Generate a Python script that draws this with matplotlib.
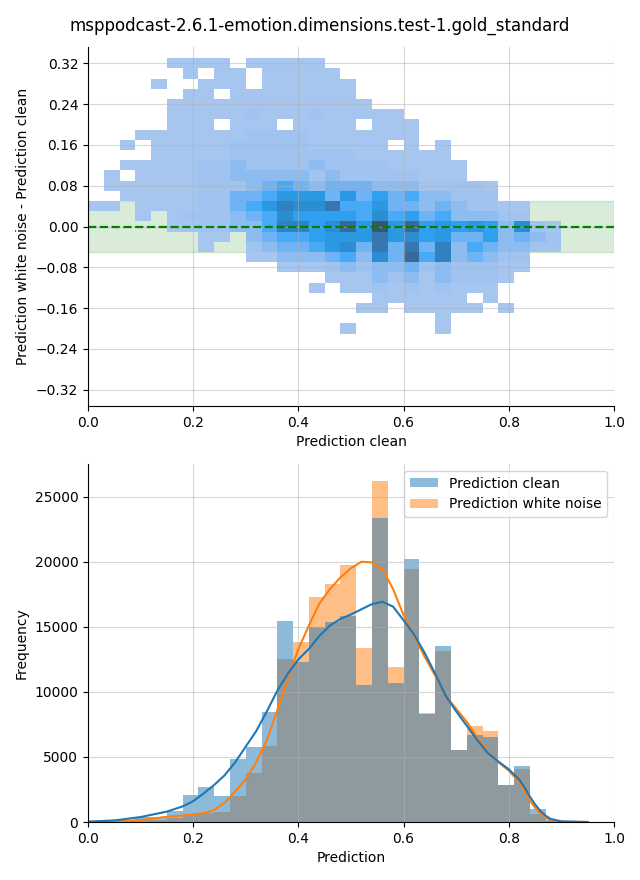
import numpy as np
import matplotlib
matplotlib.use("Agg")
import matplotlib.pyplot as plt
import seaborn as sns
from matplotlib.ticker import MultipleLocator

title = "msppodcast-2.6.1-emotion.dimensions.test-1.gold_standard"

# shared bins: 30 bins over the clean prediction range, 27 bins over the difference
x_edges = np.linspace(0.0, 0.9, 31)
y_edges = np.linspace(-0.21, 0.33, 28)

# 2d histogram, top row (0.31..0.33) first, one char per x bin
diff_rows = [
    ".....aaaa.aaaaa...............",
    "......a.aa.aaaaa..............",
    "....a..aaa.aaaaaa.............",
    "......aa.aaaaaaaa.............",
    ".....aaaaaaaaaaaaa............",
    ".....aaaaabaaabaaaaa..........",
    ".....aaa.aaa.aaaa.aaa.........",
    "...aaaaaaabbbbaaaaaaa.........",
    "..a.aaaaabbbbbaaaaa.a.a.......",
    "....aaaaabbbbbbbbaaaaaa.......",
    "..aaaaabbcbbbbcbbbbaaaaa......",
    ".a.aaaabbcccccbcbbbbbaaa......",
    ".aaaaaabbbcdedcdddcccbbbba....",
    "..aaaaabbddegggdgdfdeccbbb....",
    "aa.aaaabbdegihhjeegddcdcbbaa..",
    "...a.abbbcdehffffehefdecccbb..",
    ".....aabbcceiifhkglgkfgfgfchba",
    ".......aa.cdeefgggjghfgddfcdcb",
    ".......a..bcddeghdjdjdicedccbb",
    "..........aacccdechdkeicdcbb..",
    "............aaabcbccdbcbbbaa..",
    "...............aaacbcacbbba...",
    "..............a.aabababaaa....",
    "..................aaaaaa.a....",
    ".................aa.aaaaa.a...",
    "......................a.......",
    "................a.....a.......",
]
# estimated counts for each shade
level_counts = {'a': 25, 'b': 50, 'c': 115, 'd': 200, 'e': 290, 'f': 370,
                'g': 440, 'h': 530, 'i': 620, 'j': 700, 'k': 820, 'l': 1000}

# bar heights per bin (bottom panel)
hist_clean = [20, 60, 150, 380, 420, 850, 2080, 2660, 2000, 4820,
              5770, 8450, 15440, 12300, 14980, 15360, 15820, 10500, 23380, 10670,
              20200, 8300, 13520, 5500, 6680, 6530, 2840, 4300, 1000, 150]
hist_noise = [5, 20, 40, 120, 150, 330, 620, 670, 770, 2030,
              3770, 5840, 12500, 13810, 17280, 18280, 19750, 13370, 26200, 11900,
              19440, 8380, 13140, 5560, 7380, 6980, 2850, 4070, 640, 100]

# kde curves (scaled to counts)
kde_x = [0.00, 0.05, 0.10, 0.15, 0.18, 0.20, 0.22, 0.24, 0.26, 0.28,
         0.30, 0.32, 0.34, 0.36, 0.38, 0.40, 0.42, 0.44, 0.46, 0.48,
         0.50, 0.52, 0.54, 0.56, 0.58, 0.60, 0.62, 0.64, 0.66, 0.68,
         0.70, 0.72, 0.74, 0.76, 0.78, 0.80, 0.82, 0.83, 0.84, 0.85,
         0.86, 0.87, 0.88, 0.90, 0.95]
kde_clean = [30, 120, 380, 800, 1200, 1600, 2200, 2850, 3600, 4600,
             5800, 7000, 8500, 10100, 11400, 12500, 13300, 14300, 15100, 15600,
             15950, 16350, 16750, 16920, 16550, 15500, 14400, 13000, 11400, 9700,
             8500, 7400, 6300, 5300, 4650, 4050, 3250, 2650, 1950, 1350,
             850, 480, 230, 50, 0]
kde_noise = [0, 20, 150, 400, 500, 580, 680, 920, 1500, 2350,
             3300, 4600, 6300, 8600, 11000, 13300, 15100, 16800, 17900, 18800,
             19500, 20000, 19950, 19400, 17900, 15900, 14300, 12700, 11250, 9700,
             8700, 7700, 6500, 5400, 4600, 3950, 3050, 2400, 1650, 1100,
             650, 330, 140, 20, 0]

x_mid = (x_edges[:-1] + x_edges[1:]) / 2
y_mid = ((y_edges[:-1] + y_edges[1:]) / 2)[::-1]

xs, ys, ws = [], [], []
for r, row in enumerate(diff_rows):
    assert len(row) == 30, (r, len(row))
    for c, ch in enumerate(row):
        if ch != '.':
            xs.append(x_mid[c])
            ys.append(y_mid[r])
            ws.append(level_counts[ch])

fig = plt.figure(figsize=(6.4, 8.8), dpi=100)
ax1 = fig.add_axes([88 / 640, 1 - 406 / 880, 526 / 640, 359 / 880])
ax2 = fig.add_axes([88 / 640, 1 - 822 / 880, 526 / 640, 358 / 880])

fig.text(0.5, 1 - 26 / 880, title, ha='center', va='center', fontsize=12)

# top: difference vs clean prediction
ax1.axhspan(-0.05, 0.05, color='green', alpha=0.15)
sns.histplot(x=xs, y=ys, weights=ws, bins=[x_edges, y_edges], color='C0', ax=ax1)
ax1.axhline(0, color='green', linestyle='--', linewidth=1.6)
ax1.set_xlim(0, 1)
ax1.set_ylim(-0.352, 0.352)
ax1.yaxis.set_major_locator(MultipleLocator(0.08))
ax1.set_xlabel('Prediction clean')
ax1.set_ylabel('Prediction white noise - Prediction clean')
ax1.grid(True, alpha=0.5)

# bottom: distributions
bars_noise = ax2.hist(x_mid, bins=x_edges, weights=hist_noise, color='C1', alpha=0.5)[2]
bars_clean = ax2.hist(x_mid, bins=x_edges, weights=hist_clean, color='C0', alpha=0.5)[2]
ax2.plot(kde_x, kde_noise, color='C1', linewidth=1.5)
ax2.plot(kde_x, kde_clean, color='C0', linewidth=1.5)
ax2.set_xlim(0, 1)
ax2.set_xlabel('Prediction')
ax2.set_ylabel('Frequency')
ax2.grid(True, alpha=0.5)
ax2.legend([bars_clean, bars_noise], ['Prediction clean', 'Prediction white noise'],
           loc='upper right')

sns.despine(fig)
fig.savefig('out.png', dpi=100)
